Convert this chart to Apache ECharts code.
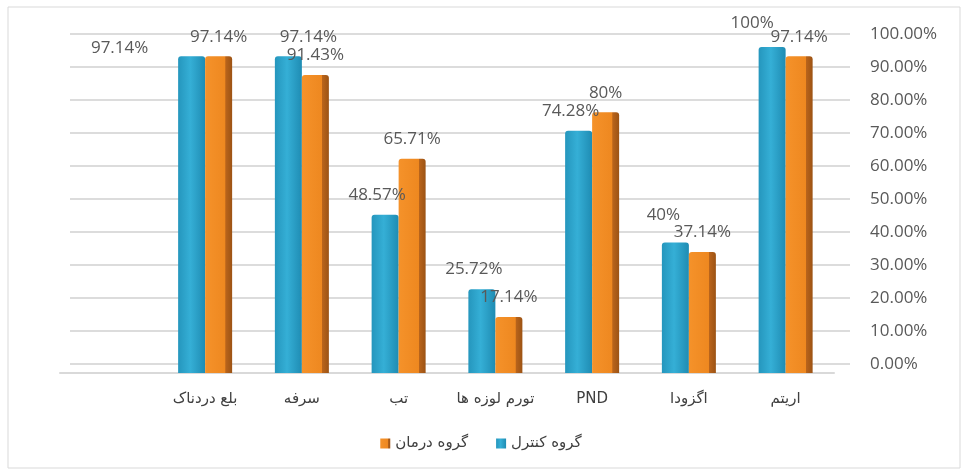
<!DOCTYPE html>
<html>
<head>
<meta charset="utf-8">
<script src="https://cdn.jsdelivr.net/npm/echarts@6/dist/echarts.min.js"></script>
<style>
  html, body { margin: 0; padding: 0; background: #fff; }
  #chart { width: 962px; height: 472px; }
</style>
</head>
<body>
<div id="chart"></div>
<script>
// categories run right-to-left (first item is drawn on the right)
const categories = ['اریتم', 'اگزودا', 'PND', 'تورم لوزه ها', 'تب', 'سرفه', 'بلع دردناک', '']
const controlValues = [100, 40, 74.28, 25.72, 48.57, 97.14, 97.14, null]
const treatmentValues = [97.14, 37.14, 80, 17.14, 65.71, 91.43, 97.14, null]
const yTicks = [0, 10, 20, 30, 40, 50, 60, 70, 80, 90, 100]
const seriesNames = ['گروه کنترل', 'گروه درمان']

const chart = echarts.init(document.getElementById('chart'))

const labelFont = { fontFamily: 'Open Sans', fontSize: 17, color: '#595959' }
// label nudges to mimic the hand-placed labels of the original
const controlLabelShift = { 5: [20, 0], 6: [-72, 11], 1: [-12, -8], 0: [-20, -4] }

const blueFill = new echarts.graphic.LinearGradient(0, 0, 1, 0, [
  { offset: 0, color: '#2596bd' },
  { offset: 0.45, color: '#35afd6' },
  { offset: 1, color: '#1f8cb3' }
])
const orangeFill = new echarts.graphic.LinearGradient(0, 0, 1, 0, [
  { offset: 0, color: '#f5922a' },
  { offset: 0.74, color: '#ee8820' },
  { offset: 0.76, color: '#b9641b' },
  { offset: 1, color: '#9c5314' }
])

const options = {
  animation: false,
  graphic: [{
    type: 'rect',
    shape: { x: 8, y: 7, width: 952, height: 461 },
    style: { fill: 'none', stroke: '#d9d9d9', lineWidth: 1 },
    silent: true
  }],
  grid: [
    { left: 70, right: 112, top: 34, bottom: 108 },
    { left: 60, right: 128, top: 47, bottom: 99 }
  ],
  legend: {
    data: [seriesNames[1], seriesNames[0]],
    top: 431,
    left: 'center',
    itemWidth: 10,
    itemHeight: 10,
    itemGap: 28,
    icon: 'rect',
    textStyle: { fontFamily: 'DejaVu Sans', fontSize: 15, color: '#404040' }
  },
  xAxis: [
    {
      gridIndex: 0, type: 'category', data: categories, inverse: true,
      axisLine: { show: false }, axisTick: { show: false }, axisLabel: { show: false }
    },
    {
      gridIndex: 1, type: 'category', data: categories, inverse: true,
      axisLine: { show: true, lineStyle: { color: '#d9d9d9', width: 2 } },
      axisTick: { show: false },
      axisLabel: { interval: 0, margin: 19, fontFamily: 'DejaVu Sans', fontSize: 15, color: '#404040' }
    }
  ],
  yAxis: [
    {
      gridIndex: 0, type: 'value', position: 'right', min: 0, max: 100, interval: 10,
      axisLine: { show: false }, axisTick: { show: false },
      splitLine: { lineStyle: { color: '#dcdcdc', width: 2 } },
      axisLabel: Object.assign({ margin: 20, formatter: v => v.toFixed(2) + '%' }, labelFont)
    },
    {
      gridIndex: 1, type: 'value', min: 0, max: 100, show: false,
      splitLine: { show: false }
    }
  ],
  series: [
    {
      name: seriesNames[0],
      type: 'bar',
      xAxisIndex: 1,
      yAxisIndex: 1,
      barWidth: 27,
      barGap: '0%',
      itemStyle: { color: blueFill, borderRadius: [3, 3, 0, 0] },
      label: Object.assign({ show: true, position: 'top', distance: 11, offset: [-8, 0], formatter: p => p.value + '%' }, labelFont),
      data: controlValues.map((v, i) => controlLabelShift[i]
        ? { value: v, label: { offset: controlLabelShift[i] } }
        : v)
    },
    {
      name: seriesNames[1],
      type: 'bar',
      xAxisIndex: 1,
      yAxisIndex: 1,
      barWidth: 27,
      barGap: '0%',
      itemStyle: { color: orangeFill, borderRadius: [3, 3, 0, 0] },
      label: Object.assign({ show: true, position: 'top', distance: 11, formatter: p => p.value + '%' }, labelFont),
      data: treatmentValues
    }
  ]
}

// legend swatches use flat colours
options.series[0].color = '#2ea6cf'
options.series[1].color = '#f08a20'

chart.setOption(options)
</script>
</body>
</html>
